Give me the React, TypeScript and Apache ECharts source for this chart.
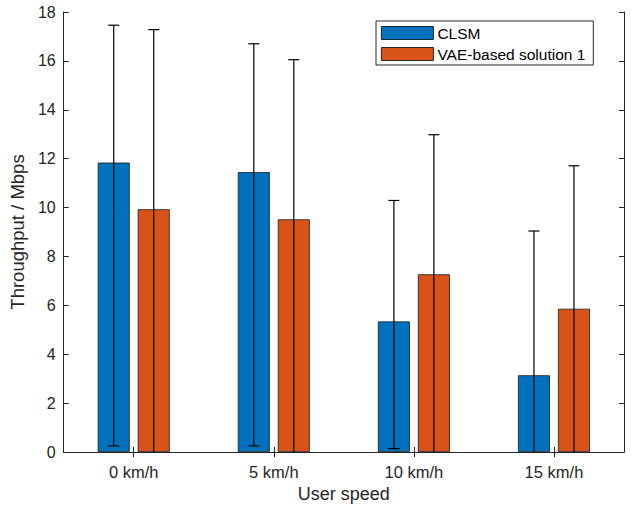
import React, { useEffect, useRef } from "react";
import * as echarts from "echarts";

const categories = ["0 km/h", "5 km/h", "10 km/h", "15 km/h"];
const seriesNames = ["CLSM", "VAE-based solution 1"];
const clsmMean = [11.84, 11.45, 5.34, 3.14];
const clsmHigh = [17.46, 16.7, 10.29, 9.04];
const clsmLow = [0.25, 0.25, 0.14, 0];
const vaeMean = [9.93, 9.52, 7.27, 5.86];
const vaeHigh = [17.28, 16.05, 12.98, 11.71];
const vaeLow = [0, 0, 0, 0];

const FONT = "'Liberation Sans', Arial, Helvetica, sans-serif";
const AX = "#262626";
const BAR_W = 32;
const BAR_GAP = 8;

function errorSeries(low: number[], high: number[], offset: number) {
  return {
    type: "custom",
    xAxisIndex: 0,
    yAxisIndex: 0,
    z: 5,
    clip: true,
    data: categories.map((_, i) => [i, low[i], high[i]]),
    renderItem: (params: any, api: any) => {
      const idx = api.value(0);
      const lo = api.value(1);
      const hi = api.value(2);
      const pLo = api.coord([idx, Math.max(lo, 0)]);
      const pHi = api.coord([idx, hi]);
      const x = pLo[0] + offset;
      const capHalf = 5.5;
      const style = { stroke: "#000", lineWidth: 1.2 };
      const children: any[] = [
        { type: "line", shape: { x1: x, y1: pLo[1], x2: x, y2: pHi[1] }, style },
        { type: "line", shape: { x1: x - capHalf, y1: pHi[1], x2: x + capHalf, y2: pHi[1] }, style },
      ];
      if (lo > 0) {
        children.push({ type: "line", shape: { x1: x - capHalf, y1: pLo[1], x2: x + capHalf, y2: pLo[1] }, style });
      }
      return { type: "group", children };
    },
  };
}

export default function App() {
  const ref = useRef<HTMLDivElement>(null);
  useEffect(() => {
    document.body.style.margin = "0";
    const chart = echarts.init(ref.current!, null, { renderer: "svg" });
    const off = (BAR_W + BAR_GAP) / 2;
    const yCommon = {
      type: "value",
      min: 0,
      max: 18,
      interval: 2,
      axisLine: { show: true, lineStyle: { color: AX, width: 1 } },
      axisTick: { show: true, inside: true, length: 5, lineStyle: { color: AX } },
      splitLine: { show: false },
    };
    const xCommon = {
      type: "category",
      data: categories,
      boundaryGap: true,
      axisLine: { show: true, lineStyle: { color: AX, width: 1 } },
      axisTick: { show: true, inside: true, alignWithLabel: true, length: 5, lineStyle: { color: AX } },
    };
    chart.setOption({
      animation: false,
      textStyle: { fontFamily: FONT },
      grid: { left: 63, top: 12, width: 561, height: 440 },
      legend: {
        data: seriesNames,
        orient: "vertical",
        left: 376,
        top: 21,
        padding: [4, 8, 3, 5],
        itemGap: 5,
        itemWidth: 52,
        itemHeight: 13,
        icon: "rect",
        backgroundColor: "#fff",
        borderColor: AX,
        borderWidth: 1,
        borderRadius: 0,
        itemStyle: { borderColor: "#000", borderWidth: 0.8 },
        textStyle: { fontSize: 15.5, color: "#000", fontFamily: FONT, lineHeight: 15, padding: [0, 0, 0, -1] },
      },
      xAxis: [
        {
          ...xCommon,
          position: "bottom",
          axisLabel: { fontSize: 16.5, color: AX, margin: 11, fontFamily: FONT },
          name: "User speed",
          nameLocation: "middle",
          nameGap: 33,
          nameTextStyle: { fontSize: 18, color: AX, fontFamily: FONT },
        },
        { ...xCommon, position: "top", axisLabel: { show: false } },
      ],
      yAxis: [
        {
          ...yCommon,
          position: "left",
          axisLabel: { fontSize: 16, color: AX, margin: 8, fontFamily: FONT },
          name: "Throughput / Mbps",
          nameLocation: "middle",
          nameGap: 31,
          nameTextStyle: { fontSize: 18.5, color: AX, fontFamily: FONT },
        },
        { ...yCommon, position: "right", axisLabel: { show: false } },
      ],
      series: [
        {
          name: seriesNames[0],
          type: "bar",
          data: clsmMean,
          barWidth: BAR_W,
          barGap: "25%",
          itemStyle: { color: "#0072BD", borderColor: "#1a1a1a", borderWidth: 0.8 },
        },
        {
          name: seriesNames[1],
          type: "bar",
          data: vaeMean,
          barWidth: BAR_W,
          barGap: "25%",
          itemStyle: { color: "#D95319", borderColor: "#1a1a1a", borderWidth: 0.8 },
        },
        errorSeries(clsmLow, clsmHigh, -off),
        errorSeries(vaeLow, vaeHigh, off),
      ],
    });
    return () => chart.dispose();
  }, []);
  return <div ref={ref} style={{ width: 631, height: 508 }} />;
}
